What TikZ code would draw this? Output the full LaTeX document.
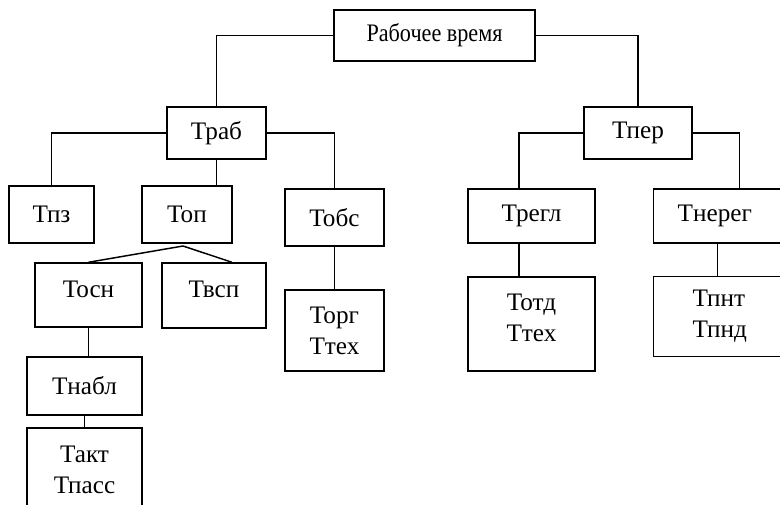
\documentclass[tikz,border=0pt]{standalone}
\usepackage{fontspec}
\setmainfont{Liberation Serif}
\newfontfamily\narrowserif{Liberation Serif}[FakeStretch=0.88]
\usetikzlibrary{positioning, calc}

\begin{document}
\begin{tikzpicture}[x=0.75pt, y=-0.75pt, line width=1.1pt,
    box/.style={draw, align=center, inner sep=2pt,
      font=\fontsize{18.9pt}{23.25pt}\selectfont}]
    % Frame (boxes at the right and bottom run past it)
    \useasboundingbox (0,0) rectangle (780,504);
    \clip (0,0) rectangle (780,504);

    % Root
    \node[box, font=\narrowserif\fontsize{18.9pt}{23.25pt}\selectfont,
      minimum width=150.75pt, minimum height=38.25pt] (rab) at (434.5,35.5) {Рабочее время};

    % Second level
    \node[box, minimum width=74.25pt, minimum height=39pt] (trab) at (216.5,133) {Траб};
    \node[box, minimum width=81pt, minimum height=39pt] (tper) at (638,133) {Тпер};

    % Third level
    \node[box, minimum width=63.75pt, minimum height=42.75pt] (tpz) at (51.5,214.5) {Тпз};
    \node[box, minimum width=67.5pt, minimum height=42.75pt] (top) at (187,214.5) {Топ};
    \node[box, minimum width=74.25pt, minimum height=42.75pt] (tobs) at (334.5,217.5) {Тобс};
    \node[box, minimum width=95.25pt, minimum height=40.5pt] (tregl) at (531.5,216) {Трегл};
    \node[box, anchor=west, align=left, inner xsep=18pt, text width=76.5pt,
      minimum height=40.5pt] (tnereg) at (653,216) {Тнерег};

    % Fourth level
    \node[box, minimum width=80.25pt, minimum height=48pt, text depth=9pt] (tosn) at (88.5,295) {Тосн};
    \node[box, minimum width=78pt, minimum height=48.75pt, text depth=9pt] (tvsp) at (214,295.5) {Твсп};
    \node[box, minimum width=74.25pt, minimum height=60.75pt] (torg) at (334.5,330.5) {Торг\\Ттех};
    \node[box, minimum width=95.25pt, minimum height=70.5pt, text depth=9.75pt] (totd) at (531.5,324) {Тотд\\Ттех};
    \node[box, anchor=west, align=left, inner xsep=29.25pt, text width=54pt,
      minimum height=60pt] (tpnt) at (653,316.5) {Тпнт\\Тпнд};

    % Under Tосн
    \node[box, minimum width=86.25pt, minimum height=43.5pt] (tnabl) at (84.5,386) {Тнабл};
    \node[box, minimum width=86.25pt, minimum height=63pt] (takt) at (84.5,470) {Такт\\Тпасс};

    % Connectors
    \draw (rab.west) -| (trab.north);
    \draw (rab.east) -| (tper.north);
    \draw (trab.west) -| (tpz.north);
    \draw (trab.south) -- (trab.south |- top.north);
    \draw (trab.east) -| (tobs.north);
    \coordinate (fork) at (183,246);
    \draw (tosn.north) -- (fork) -- ([xshift=13.5pt]tvsp.north);
    \draw (tosn.south) -- (tosn.south |- tnabl.north);
    \draw (tnabl.south) -- (takt.north);
    \draw (tobs.south) -- (torg.north);
    \draw (tper.west) -| ([xshift=-9.4pt]tregl.north);
    \draw ([xshift=-9.4pt]tregl.south) -- ([xshift=-9.4pt]totd.north);
    \draw (tper.east) -| ([xshift=8.25pt]tnereg.north);
    \draw ([xshift=-8.25pt]tnereg.south) -- ([xshift=-8.25pt]tpnt.north);
\end{tikzpicture}
\end{document}
